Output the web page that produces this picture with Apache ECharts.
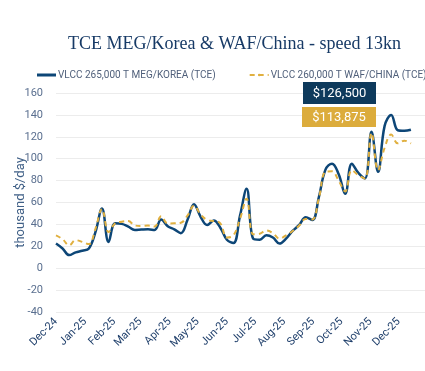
<!DOCTYPE html>
<html><head><meta charset="utf-8">
<script src="https://cdn.jsdelivr.net/npm/echarts@6/dist/echarts.min.js"></script>
<style>html,body{margin:0;padding:0;background:#fff}#c{width:425px;height:371px}</style>
</head><body><div id="c"></div>
<script>
const startDate = '2024-12-01';
const weekCount = 55;
const meg = [22.5,18,12,14.5,16,18,33,54.5,24,41,40.5,38,35,35.3,35.5,35,44.5,38.4,35.5,32,44,58.5,47,39.5,43.5,37,26,23,48,72.5,27,26,30,28,22.5,27,34,39.5,46.5,44,65,90,95.5,86,68,95.5,87,82,124.5,88,130,140,126,125.5,126.5];
const waf = [30,26.5,21,25.6,24,22,36,54,33,41,42.5,43,39,38.6,39,38,47.5,40.8,41,41.5,48,57,49,44,43,41,28,30,45,63.5,31,31.5,34.5,32,27,30,34,39,45,44.5,64,88,88.5,80,70,89.5,85,82,123.5,89.5,110,122,114,116.5,113.875];
const seriesNames = ['VLCC 265,000 T MEG/KOREA (TCE)','VLCC 260,000 T WAF/CHINA (TCE)'];
const months = ['Jan','Feb','Mar','Apr','May','Jun','Jul','Aug','Sep','Oct','Nov','Dec'];
const yTicks = {min:-40, max:160, interval:20};

const dates = [];
const d0 = new Date(startDate + 'T00:00:00Z').getTime();
for (let i = 0; i < weekCount; i++) dates.push(d0 + i*7*86400000);
const fmtMoney = v => '$' + Math.round(v*1000).toLocaleString('en-US');

const chart = echarts.init(document.getElementById('c'));
const navy = '#0d4677', gold = '#e0b040';
chart.setOption({
  animation:false,
  title:{text:'TCE MEG/Korea & WAF/China - speed 13kn', left:63, top:30,
    textStyle:{fontFamily:'Liberation Serif', fontWeight:'normal', fontSize:18, color:'#173a66'}},
  legend:{top:65, left:32, width:1000, itemGap:33, itemWidth:19, itemHeight:3,
    textStyle:{fontFamily:'Roboto', fontSize:10, color:'#4f5f7a', padding:[0,0,0,-3]},
    data:[{name:seriesNames[0], icon:'rect'},{name:seriesNames[1]}]},
  grid:{left:56, right:0, top:93, bottom:59, containLabel:false},
  xAxis:{type:'time', min:d0, max:new Date('2025-12-29T00:00:00Z').getTime(), splitNumber:13,
    axisLine:{show:false}, axisTick:{show:false}, splitLine:{show:false}, minorTick:{show:false},
    axisLabel:{rotate:45, fontFamily:'Roboto', fontSize:11, color:'#1f3f6b', margin:8, hideOverlap:false,
      showMinLabel:true, showMaxLabel:false,
      formatter:v=>{const d=new Date(v); return months[d.getUTCMonth()]+'-'+String(d.getUTCFullYear()).slice(2);}}},
  yAxis:{type:'value', min:yTicks.min, max:yTicks.max, interval:yTicks.interval,
    name:'thousand $/day', nameLocation:'middle', nameGap:29, nameMoveOverlap:false,
    nameTextStyle:{fontFamily:'Roboto', fontSize:13, color:'#3f5f86'},
    axisLine:{show:false}, axisTick:{show:false},
    splitLine:{lineStyle:{color:'#ececec', width:1}},
    axisLabel:{fontFamily:'Roboto', fontSize:11, color:'#5a6f8f', margin:13}},
  series:[
    {name:seriesNames[0], type:'line', smooth:0.4, symbol:'none', z:2,
      lineStyle:{color:navy, width:2.5}, itemStyle:{color:navy},
      data:dates.map((t,i)=>[t, meg[i]])},
    {name:seriesNames[1], type:'line', smooth:0.4, symbol:'none', z:3,
      lineStyle:{color:gold, width:2, type:[5,4]}, itemStyle:{color:gold},
      data:dates.map((t,i)=>[t, waf[i]])}
  ],
  graphic:[
    {type:'rect', z:100, shape:{x:303, y:82, width:73, height:22}, style:{fill:'#0e3a5c'}},
    {type:'text', z:101, x:339.5, y:93.5, style:{text:fmtMoney(meg[meg.length-1]), fill:'#ffffff', font:'13px Roboto', align:'center', verticalAlign:'middle'}},
    {type:'rect', z:100, shape:{x:302, y:107, width:74, height:20}, style:{fill:'#dcac3c'}},
    {type:'text', z:101, x:339, y:117.5, style:{text:fmtMoney(waf[waf.length-1]), fill:'#ffffff', font:'13px Roboto', align:'center', verticalAlign:'middle'}}
  ]
});
</script></body></html>
